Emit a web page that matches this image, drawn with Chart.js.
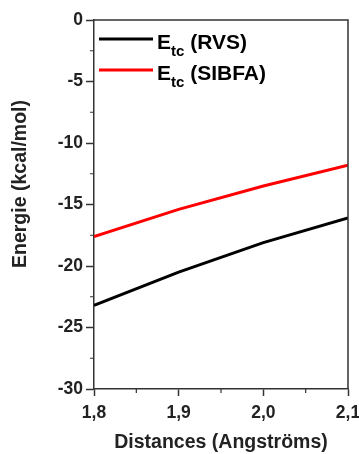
<!DOCTYPE html>
<html>
<head>
<meta charset="utf-8">
<script src="https://cdn.jsdelivr.net/npm/chart.js@4"></script>
<style>
  html, body { margin: 0; padding: 0; background: #fff; }
  #wrap { width: 359px; height: 454px; }
</style>
</head>
<body>
<div id="wrap"><canvas id="chart1" width="359" height="454"></canvas></div>
<script>
/************* data ********* */
const distances = [1.8, 1.9, 2.0, 2.1];
const rvsValues = [-23.2, -20.5, -18.1, -16.1];
const sibfaValues = [-17.6, -15.4, -13.5, -11.8];
const seriesNames = ["RVS", "SIBFA"];
const seriesColors = ["#000000", "#ff0000"];
const yTitle = "Energie (kcal/mol)";

const font = "'Liberation Sans', Arial, sans-serif";

function toPoints(ys) {
    return distances.map((d, i) => ({ x: d, y: ys[i] }));
}

// frame on top/right, minor ticks, y title, legend with subscript
const extras = {
    id: "extras",
    afterDraw(chart) {
        const ctx = chart.ctx;
        const a = chart.chartArea;
        const xs = chart.scales.x, ys = chart.scales.y;
        ctx.save();
        ctx.strokeStyle = "#333";
        ctx.lineWidth = 1.5;
        ctx.beginPath();
        ctx.moveTo(a.left, a.top);
        ctx.lineTo(a.right, a.top);
        ctx.lineTo(a.right, a.bottom);
        ctx.stroke();

        // minor ticks halfway between major ones
        ctx.lineWidth = 1.2;
        ctx.beginPath();
        for (let i = 0; i < ys.ticks.length - 1; i++) {
            const v = (ys.ticks[i].value + ys.ticks[i + 1].value) / 2;
            const p = ys.getPixelForValue(v);
            ctx.moveTo(a.left - 4, p);
            ctx.lineTo(a.left, p);
        }
        for (let i = 0; i < xs.ticks.length - 1; i++) {
            const v = (xs.ticks[i].value + xs.ticks[i + 1].value) / 2;
            const p = xs.getPixelForValue(v);
            ctx.moveTo(p, a.bottom);
            ctx.lineTo(p, a.bottom + 4);
        }
        ctx.stroke();

        // y title (sits a bit above the axis centre in the original)
        ctx.save();
        ctx.translate(21, a.top + 164);
        ctx.rotate(-Math.PI / 2);
        ctx.font = "bold 19.5px " + font;
        ctx.fillStyle = "#222";
        ctx.textAlign = "center";
        ctx.textBaseline = "middle";
        ctx.fillText(yTitle, 0, 0);
        ctx.restore();

        // legend
        chart.data.datasets.forEach((ds, i) => {
            const y = a.top + 19 + i * 31;
            ctx.strokeStyle = ds.borderColor;
            ctx.lineWidth = 3;
            ctx.beginPath();
            ctx.moveTo(a.left + 5, y);
            ctx.lineTo(a.left + 59, y);
            ctx.stroke();
            ctx.fillStyle = "#000";
            ctx.textBaseline = "alphabetic";
            let x = a.left + 63;
            ctx.font = "bold 21px " + font;
            ctx.fillText("E", x, y + 10);
            x += ctx.measureText("E").width;
            ctx.font = "bold 15px " + font;
            ctx.fillText("tc", x, y + 17);
            x += ctx.measureText("tc").width;
            ctx.font = "bold 21px " + font;
            ctx.fillText(" (" + seriesNames[i] + ")", x, y + 10);
        });
        ctx.restore();
    }
};

new Chart("chart1", {
    type: "line",
    data: {
        datasets: [{
            label: seriesNames[0],
            data: toPoints(rvsValues),
            borderColor: seriesColors[0],
            borderWidth: 3,
            pointRadius: 0,
            fill: false
        }, {
            label: seriesNames[1],
            data: toPoints(sibfaValues),
            borderColor: seriesColors[1],
            borderWidth: 3,
            pointRadius: 0,
            fill: false
        }]
    },
    options: {
        responsive: false,
        animation: false,
        layout: {
            padding: { top: 20, right: 11, left: 0, bottom: 0 }
        },
        plugins: {
            legend: { display: false },
            tooltip: { enabled: false }
        },
        scales: {
            x: {
                type: "linear",
                min: 1.8,
                max: 2.1,
                ticks: {
                    stepSize: 0.1,
                    color: "#222",
                    font: { family: font, size: 17.5, weight: "bold" },
                    padding: 7,
                    maxRotation: 0,
                    callback: v => v.toFixed(1).replace(".", ",")
                },
                grid: {
                    drawOnChartArea: false,
                    tickLength: 7,
                    tickColor: "#333",
                    tickWidth: 1.5
                },
                border: { color: "#333", width: 1.5 },
                title: {
                    display: true,
                    text: "Distances (Angströms)",
                    color: "#222",
                    font: { family: font, size: 19.5, weight: "bold" },
                    padding: { top: 8, bottom: 0 }
                },
                afterFit: s => { s.height = 65; s.paddingRight = 0; }
            },
            y: {
                min: -30,
                max: 0,
                ticks: {
                    stepSize: 5,
                    color: "#222",
                    font: { family: font, size: 17.5, weight: "bold" },
                    padding: 3
                },
                grid: {
                    drawOnChartArea: false,
                    tickLength: 8,
                    tickColor: "#333",
                    tickWidth: 1.5
                },
                border: { color: "#333", width: 1.5 },
                afterFit: s => { s.width = 94; }
            }
        }
    },
    plugins: [extras]
});
</script>
</body>
</html>
